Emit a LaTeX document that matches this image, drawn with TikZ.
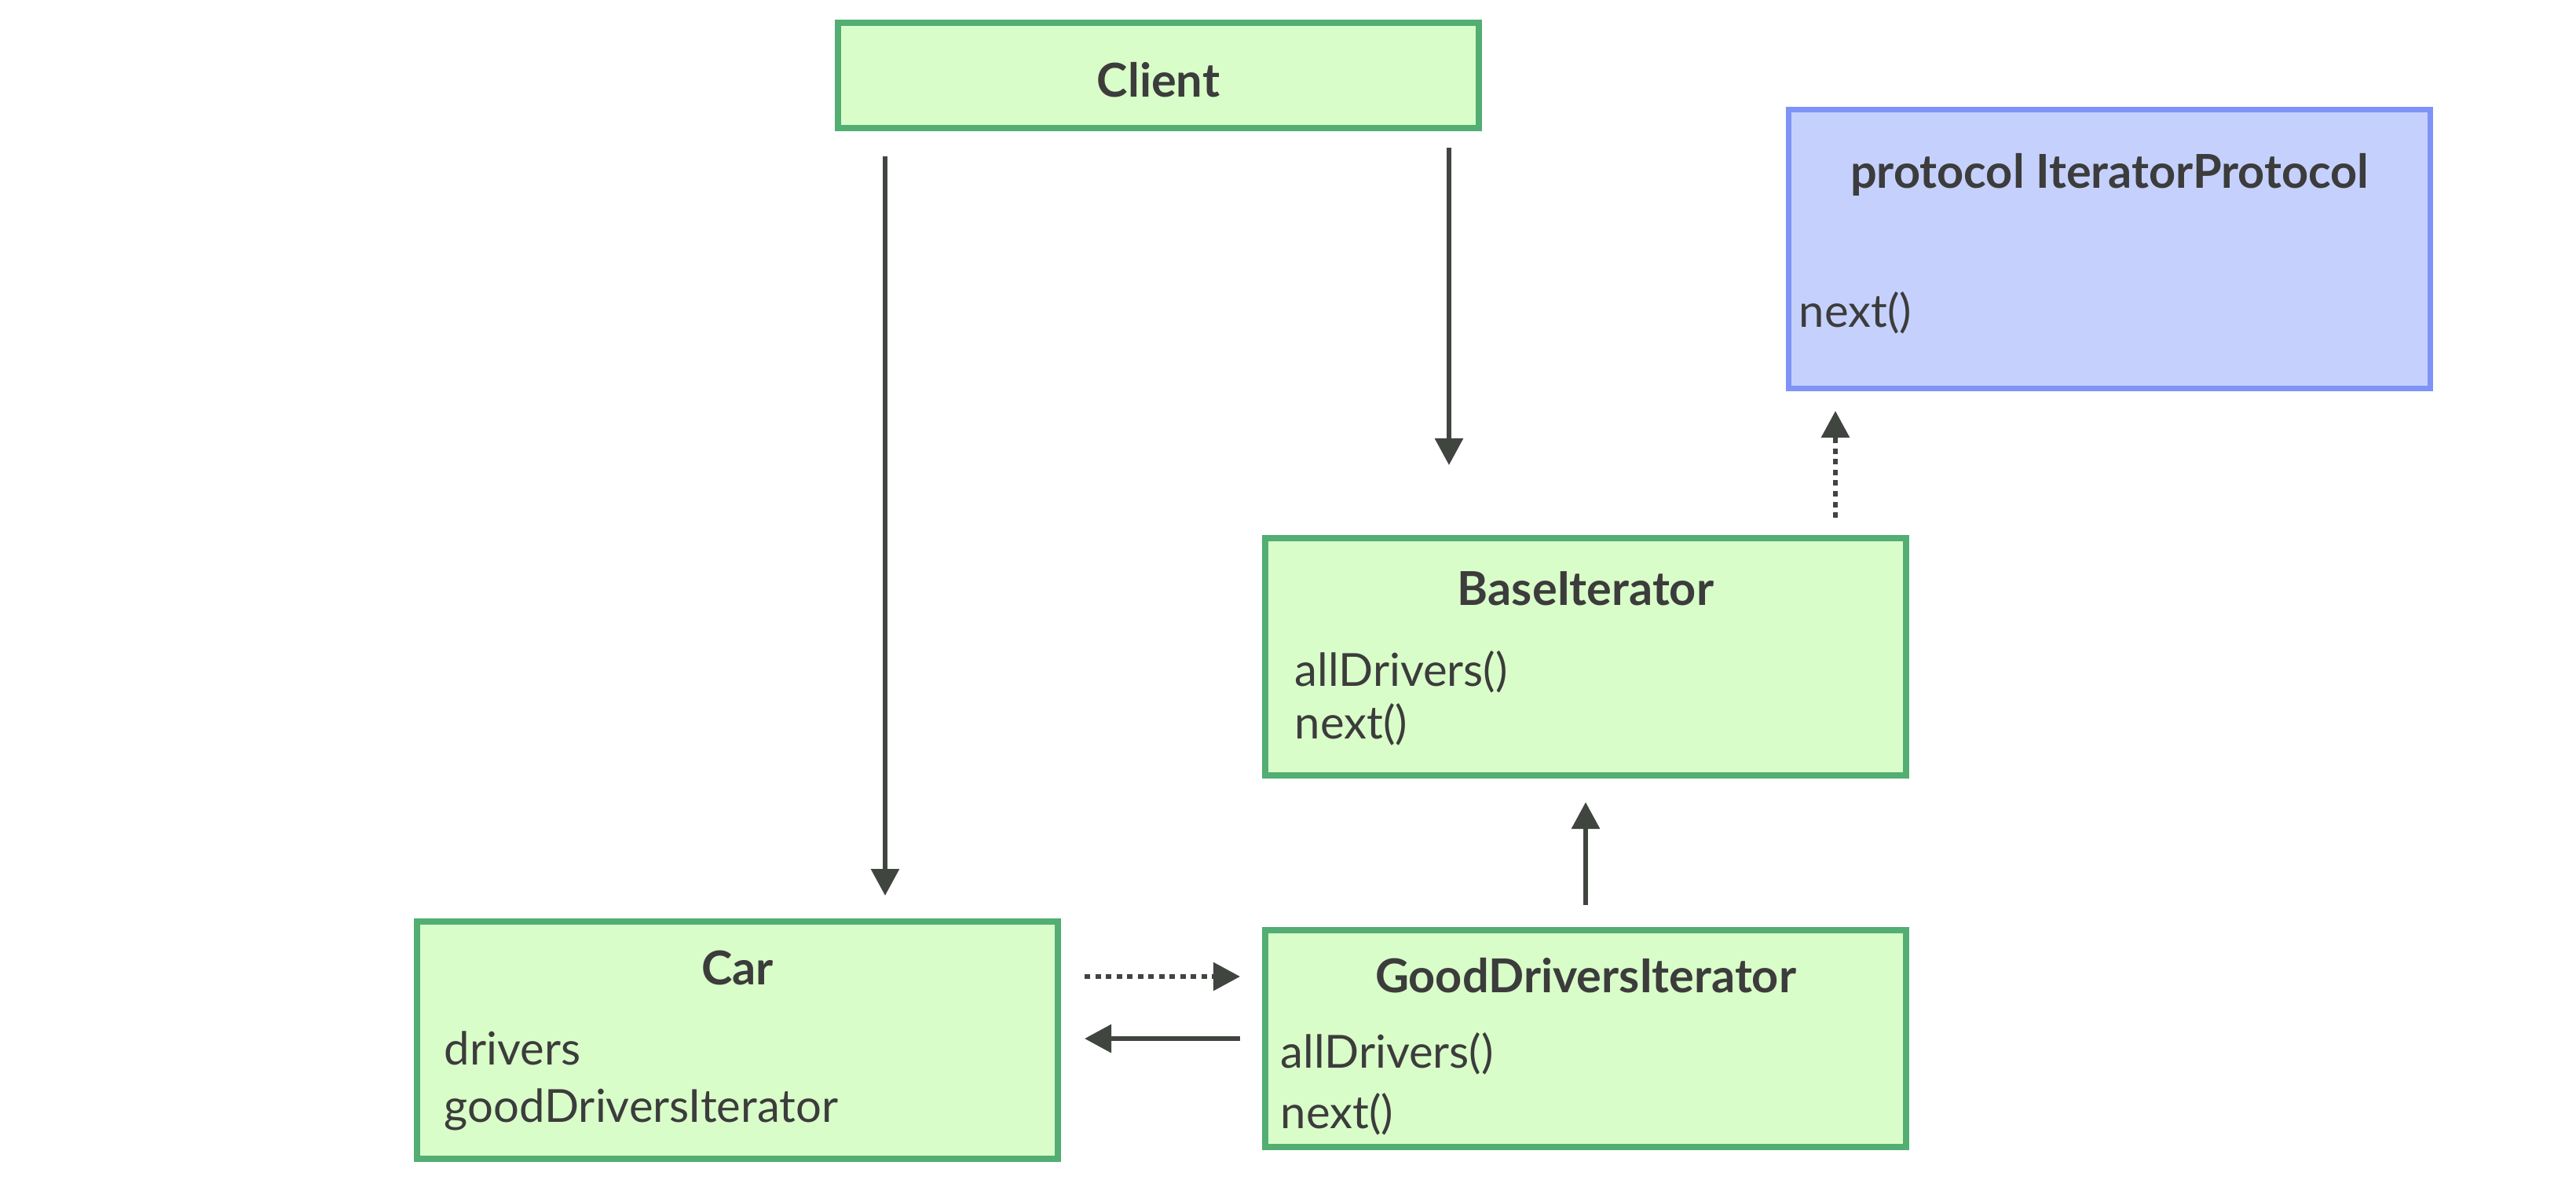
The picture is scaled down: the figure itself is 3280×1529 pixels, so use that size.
\documentclass[tikz,border=0pt]{standalone}
\usepackage{fontspec}
\setmainfont{Lato}
\usetikzlibrary{arrows.meta}
\definecolor{gborder}{HTML}{52AE72}
\definecolor{gfill}{HTML}{D9FDC9}
\definecolor{bborder}{HTML}{7E92F8}
\definecolor{bfill}{HTML}{C5D1FC}
\definecolor{txt}{HTML}{3C3C3C}
\definecolor{arr}{HTML}{404540}
\tikzset{
  gbox/.style={draw=gborder, fill=gfill, line width=0.08cm, rectangle, inner sep=0pt},
  bbox/.style={draw=bborder, fill=bfill, line width=0.07cm, rectangle, inner sep=0pt},
  title/.style={text=txt, font=\fontsize{16.9}{20}\selectfont\bfseries, inner sep=0pt},
  member/.style={text=txt, font=\fontsize{16.5}{20}\selectfont, inner sep=0pt, anchor=west},
  conn/.style={draw=arr, line width=0.06cm, -{Triangle[length=0.34cm,width=0.35cm]}},
  dotconn/.style={conn, dash pattern=on 0.07cm off 0.065cm},
}
\begin{document}
\begin{tikzpicture}[x=0.01cm,y=-0.01cm]
\useasboundingbox[fill=white] (0,0) rectangle (3280,1529);
% boxes
\node[gbox, minimum width=8.16cm, minimum height=1.34cm] (client) at (1475,96) {};
\node[bbox, minimum width=8.16cm, minimum height=3.54cm] (proto) at (2686,317) {};
\node[gbox, minimum width=8.16cm, minimum height=3.01cm] (base) at (2019,836) {};
\node[gbox, minimum width=8.16cm, minimum height=3.02cm] (car) at (939,1324) {};
\node[gbox, minimum width=8.16cm, minimum height=2.76cm] (good) at (2019,1322) {};
% texts
\node[title] (clientT) at (1475,102) {Client};
\node[title] (protoT) at (2686,222) {protocol IteratorProtocol};
\node[member] (protoN) at (2290,398) {next()};
\node[title] (baseT) at (2019,749) {BaseIterator};
\node[member] (baseA) at (1648,855) {allDrivers()};
\node[member] (baseN) at (1648,922) {next()};
\node[title] (carT) at (939,1232) {Car};
\node[member] (carD) at (565,1334) {drivers};
\node[member] (carG) at (565,1412) {goodDriversIterator};
\node[title] (goodT) at (2019,1242) {GoodDriversIterator};
\node[member] (goodA) at (1630,1341) {allDrivers()};
\node[member] (goodN) at (1630,1418) {next()};
% connector end points
\coordinate (c1s) at (1127,199);
\coordinate (c1e) at (1127,1140);
\coordinate (c2s) at (1845,188);
\coordinate (c2e) at (1845,592);
\coordinate (p1s) at (2337,659);
\coordinate (p1e) at (2337,523);
\coordinate (b1s) at (2019,1152);
\coordinate (b1e) at (2019,1021);
\coordinate (d1s) at (1381,1243);
\coordinate (d1e) at (1579,1243);
\coordinate (s1s) at (1579,1322);
\coordinate (s1e) at (1381,1322);
% connectors
\draw[conn] (c1s) -- (c1e);
\draw[conn] (c2s) -- (c2e);
\draw[dotconn] (p1s) -- (p1e);
\draw[conn] (b1s) -- (b1e);
\draw[dotconn] (d1s) -- (d1e);
\draw[conn] (s1s) -- (s1e);
\end{tikzpicture}
\end{document}
